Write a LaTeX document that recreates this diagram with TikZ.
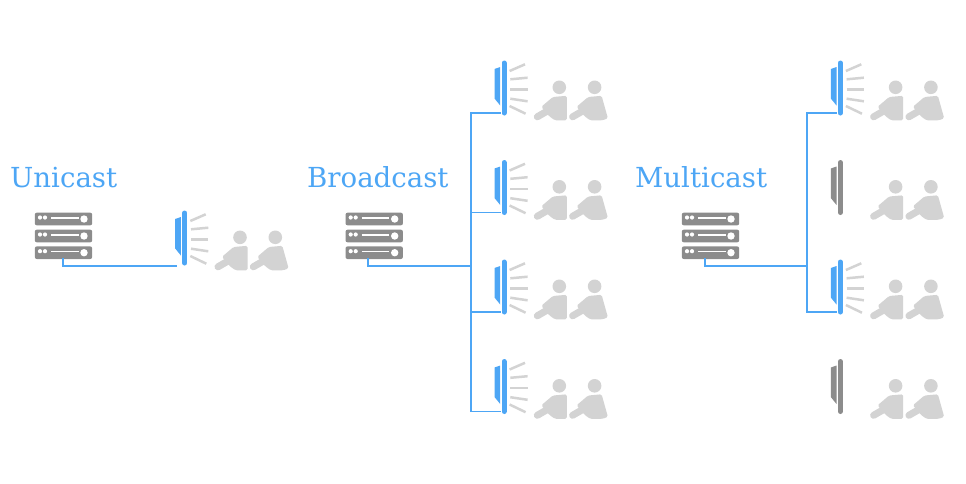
\documentclass[tikz,border=0pt]{standalone}
\usepackage{fontspec}
\usepackage{tikz}
\usetikzlibrary{positioning, calc}
\newfontfamily\castfont{DejaVu Serif}
\definecolor{castblue}{HTML}{4DA6F5}
\definecolor{rackgray}{HTML}{8C8C8C}
\definecolor{crowdgray}{HTML}{D3D3D3}
\tikzset{
	castlabel/.style={anchor=base west, inner sep=0pt, text=castblue, font=\castfont\fontsize{27.6}{28}\selectfont}, % the three titles
	link/.style={draw=castblue, line width=1.8pt}, % wires between server and screens
	ray/.style={draw=crowdgray, line width=2.5pt}, % light from a screen
	% one row of the server rack
	rackrow/.pic={
		\fill[rackgray, rounded corners=2pt] (-28.7,-6.3) rectangle (28.7,6.3);
		\fill[white] (-23.5,-1.5) circle (2.1pt) (-18.5,-1.5) circle (2.1pt) (20.5,0) circle (3.7pt);
		\draw[white, line width=1.1pt] (-12.5,-1) -- (15,-1);
	},
	% the rack, origin at its centre, #1 is where the wire leaves
	server/.pic={
		\pic at (0,-17) {rackrow};
		\pic at (0,0) {rackrow};
		\pic at (0,16.7) {rackrow};
		\coordinate (-out) at (#1,22);
	},
	% the screen, origin at the top of its front bar
	screen/.pic={
		\draw[#1, line width=5pt, line cap=round] (0,2) -- (0,52);
		\fill[#1] (-9.5,8) -- (-3.8,6) -- (-3.8,44.5) -- (-9.5,37.5) -- cycle;
		\coordinate (-in) at (-3,52);
	},
	seated/.pic={
		\fill[crowdgray] (0,0) circle (6.8pt);
		\fill[crowdgray, rounded corners=1.5pt] (-6.5,9.7) -- (7.5,8.5) -- (7.5,33) -- (-4.5,33) -- (-10,29) -- (-18,19.5) -- cycle;
		\draw[crowdgray, line width=7pt, line cap=round] (-22,29.5) -- (-9,22);
	},
	seatedb/.pic={
		\fill[crowdgray] (0,0) circle (6.8pt);
		\fill[crowdgray, rounded corners=1.5pt] (-6.5,9.7) -- (7,8.5) -- (13.3,31) -- (8,33) -- (-4.5,33) -- (-10,29) -- (-18,19.5) -- cycle;
		\draw[crowdgray, line width=7pt, line cap=round] (-22,29.5) -- (-9,22);
	},
	% the two people, origin at the bar top as for the screen
	crowd/.pic={
		\pic at (55.3,26.3) {seated};
		\pic at (90.6,26.3) {seatedb};
	},
	% rays, origin at the bar top
	glow/.pic={
		\draw[ray] (5.6,10) -- (21,3.3);
		\draw[ray] (6.3,18.3) -- (23.6,16.7);
		\draw[ray] (6.3,28.3) -- (23.6,28.3);
		\draw[ray] (6.3,37.7) -- (23.6,40.3);
		\draw[ray] (5.6,45) -- (21.6,52.7);
	},
}
\begin{document}
\begin{tikzpicture}[x=1pt, y=-1pt, node distance=99.5pt]
	\useasboundingbox (0,0) rectangle (966,483);

	\node[castlabel] (unicast) at (10,187) {Unicast};
	\node[castlabel] (broadcast) at (307,187) {Broadcast};
	\node[castlabel] (multicast) at (635,187) {Multicast};

	\pic (us) at (63.5,236) {server=-0.2};
	\pic (bs) at (374.2,236) {server=-5.9};
	\pic (ms) at (710.5,236) {server=-5.8};

	\coordinate (u1) at (184.7,211);
	\coordinate (b1) at (504,61);
	\coordinate[below of=b1] (b2);
	\coordinate[below of=b2] (b3);
	\coordinate[below of=b3] (b4);
	\coordinate (m1) at (840.3,61);
	\coordinate[below of=m1] (m2);
	\coordinate[below of=m2] (m3);
	\coordinate[below of=m3] (m4);

	\foreach \s in {u1, b1, b2, b3, b4, m1, m3} {
		\pic (\s scr) at (\s) {screen=castblue};
		\pic at (\s) {glow};
	}
	\foreach \s in {m2, m4} {
		\pic (\s scr) at (\s) {screen=rackgray};
	}
	\foreach \s in {u1, b1, b2, b3, b4, m1, m2, m3, m4} {
		\pic at (\s) {crowd};
	}

	\coordinate (uend) at (177,266);
	\coordinate (btrunk) at (471,266);
	\coordinate (mtrunk) at (807.3,266);

	\draw[link] (us-out) |- (uend);
	\draw[link] (bs-out) |- (btrunk);
	\draw[link] (ms-out) |- (mtrunk);
	\foreach \s in {b1, b2, b3, b4} {
		\draw[link] (btrunk) |- (\s scr-in);
	}
	\foreach \s in {m1, m3} {
		\draw[link] (mtrunk) |- (\s scr-in);
	}
\end{tikzpicture}
\end{document}
